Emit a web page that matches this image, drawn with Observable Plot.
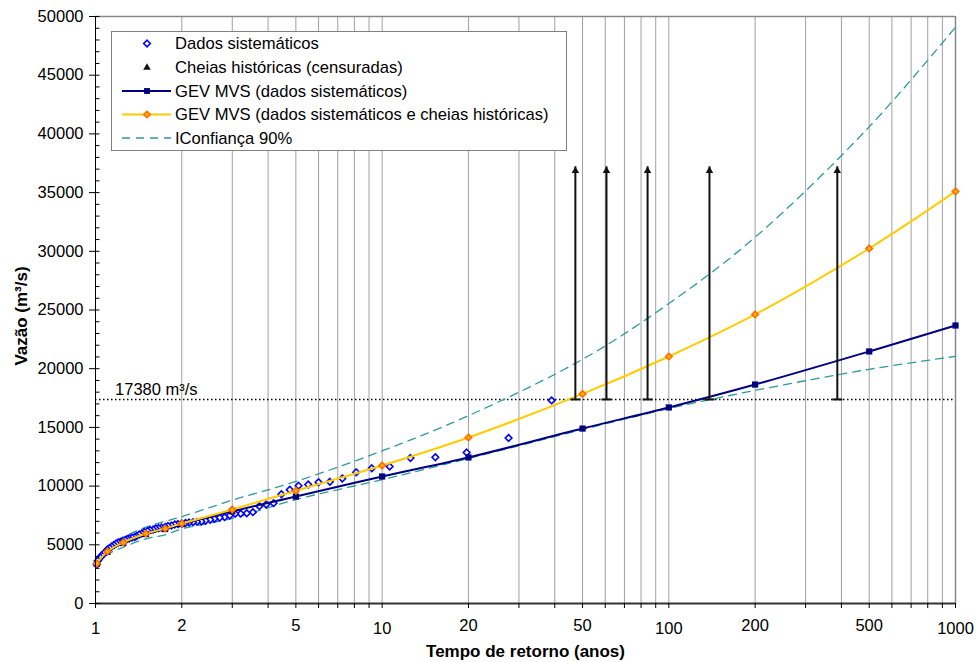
<!DOCTYPE html>
<html>
<head>
<meta charset="utf-8">
<script src="https://cdn.jsdelivr.net/npm/d3@7"></script>
<script src="https://cdn.jsdelivr.net/npm/@observablehq/plot@0.6"></script>
<style>
  body { margin: 0; background: #fff; }
  #chart svg { font-family: "Liberation Sans", Arial, sans-serif; overflow: visible; }
</style>
</head>
<body>
<div id="chart"></div>
<script>
// Systematic annual maxima: plotting-position return period (years) and flow (m³/s)
const sysT = [39.0, 27.6, 19.71, 15.33, 12.55, 10.62, 9.2, 8.12, 7.26, 6.57, 6.0, 5.52, 5.11, 4.76, 4.45,
  4.18, 3.94, 3.73, 3.54, 3.37, 3.21, 3.07, 2.94, 2.82, 2.71, 2.6, 2.51, 2.42, 2.34, 2.26, 2.19, 2.12,
  2.06, 2.0, 1.94, 1.89, 1.84, 1.79, 1.75, 1.7, 1.66, 1.62, 1.59, 1.55, 1.52, 1.48, 1.45, 1.42, 1.39,
  1.37, 1.34, 1.31, 1.29, 1.27, 1.24, 1.22, 1.2, 1.18, 1.16, 1.14, 1.12, 1.1, 1.09, 1.07, 1.05, 1.04,
  1.02, 1.01];
const sysQ = [17300, 14100, 12860, 12460, 12390, 11670, 11520, 11180, 10650, 10370, 10330, 10140, 10030, 9690, 9310,
  8545, 8430, 8290, 7780, 7690, 7650, 7640, 7500, 7355, 7300, 7210, 7130, 7040, 6985, 6955, 6930, 6900,
  6860, 6810, 6770, 6730, 6640, 6600, 6520, 6470, 6430, 6390, 6300, 6260, 6175, 6090, 5960, 5880, 5750,
  5660, 5620, 5540, 5490, 5410, 5320, 5240, 5200, 5110, 4980, 4860, 4730, 4600, 4430, 4260, 4090, 3920,
  3660, 3320];

// Return periods at which the fitted GEV quantiles are evaluated
const fitT = [1.01, 1.1, 1.25, 1.5, 1.75, 2, 3, 5, 10, 20, 50, 100, 200, 500, 1000];
const gevSys = [3380, 4400, 5170, 5920, 6340, 6760, 7850, 9110, 10820, 12440, 14900, 16700, 18650, 21470, 23680];
const gevHist = [3400, 4430, 5200, 5960, 6390, 6810, 8000, 9600, 11750, 14140, 17850, 21040, 24620, 30240, 35100];
const ciUpper = [3700, 4750, 5650, 6500, 7000, 7400, 8800, 10400, 13000, 16000, 20800, 25550, 31200, 40600, 49100];
const ciLower = [3150, 4150, 4800, 5500, 5850, 6350, 7250, 8850, 10550, 12350, 14820, 16600, 18150, 19950, 21050];

// Censored historical floods: known to exceed the threshold
const histT = [47.2, 60.6, 84.3, 138.6, 387];
const threshold = 17380;
const histTop = 37200;

// Axis ticks
const xDecades = [1, 10, 100, 1000];
const xOthers = [2, 5, 20, 50, 200, 500];
const xTicks = [1, 2, 3, 4, 5, 6, 7, 8, 9, 10, 20, 30, 40, 50, 60, 70, 80, 90,
  100, 200, 300, 400, 500, 600, 700, 800, 900, 1000];
const yMajor = [0, 5000, 10000, 15000, 20000, 25000, 30000, 35000, 40000, 45000, 50000];
const yMinor = d3.range(0, 50001, 1000);

const sysData = sysT.map((t, i) => ({t, q: sysQ[i]}));
const fitSys = fitT.map((t, i) => ({t, q: gevSys[i]}));
const fitHist = fitT.map((t, i) => ({t, q: gevHist[i]}));
const upper = fitT.map((t, i) => ({t, q: ciUpper[i]}));
const lower = fitT.map((t, i) => ({t, q: ciLower[i]}));

const teal = "#2f9a9a";
const navy = "#000080";
const gold = "#ffcc00";
const orange = "#ff6a00";
const blue = "#0000ff";
const FS = 16.5;

// custom symbols: square-proportioned diamond, base cap of the censored arrows, inward axis ticks
const diamond = {draw(ctx) { const h = 3.3; ctx.moveTo(0, -h); ctx.lineTo(h, 0); ctx.lineTo(0, h); ctx.lineTo(-h, 0); ctx.closePath(); }};
const capSymbol = {draw(ctx) { ctx.moveTo(-5, 0); ctx.lineTo(5, 0); }};
const inTick = {draw(ctx) { ctx.moveTo(0, 0); ctx.lineTo(4, 0); }};

const chart = Plot.plot({
  width: 976,
  height: 662,
  marginLeft: 95,
  marginRight: 21,
  marginTop: 16,
  marginBottom: 59,
  style: {fontSize: FS + "px", fontFamily: "Liberation Sans, Arial, sans-serif", background: "white"},
  x: {type: "log", domain: [1, 1000]},
  y: {domain: [0, 50000]},
  marks: [
    // vertical grid
    Plot.ruleX(xTicks.filter(d => d > 1 && d < 1000), {stroke: "#a0a0a0", strokeWidth: 1}),
    // plot-area border (top and right)
    Plot.ruleY([50000], {stroke: "#888", strokeWidth: 1.5}),
    Plot.ruleX([1000], {stroke: "#888", strokeWidth: 1.5}),
    // threshold of perception
    Plot.ruleY([threshold], {stroke: "#000", strokeWidth: 1.5, strokeDasharray: "1.5,2.5"}),
    Plot.text([`${threshold} m³/s`], {x: 1.17, y: threshold, textAnchor: "start", lineAnchor: "bottom",
      dy: -4, fontSize: FS, fill: "#000"}),
    // 90% confidence interval
    Plot.line(upper, {x: "t", y: "q", stroke: teal, strokeWidth: 1.3, strokeDasharray: "8,6", curve: "catmull-rom"}),
    Plot.line(lower, {x: "t", y: "q", stroke: teal, strokeWidth: 1.3, strokeDasharray: "8,6", curve: "catmull-rom"}),
    // systematic sample
    Plot.dot(sysData, {x: "t", y: "q", symbol: diamond, stroke: blue, strokeWidth: 1.6, fill: "white"}),
    // GEV fit, systematic data only
    Plot.line(fitSys, {x: "t", y: "q", stroke: navy, strokeWidth: 2, curve: "catmull-rom"}),
    Plot.dot(fitSys, {x: "t", y: "q", symbol: "square", r: 3.5, fill: navy}),
    // GEV fit, systematic data plus historical floods
    Plot.line(fitHist, {x: "t", y: "q", stroke: gold, strokeWidth: 2, curve: "catmull-rom"}),
    Plot.dot(fitHist, {x: "t", y: "q", symbol: diamond, fill: "#ffb000", stroke: orange, strokeWidth: 1.5}),
    // censored historical floods
    Plot.ruleX(histT, {x: d => d, y1: threshold, y2: histTop, stroke: "#111", strokeWidth: 2}),
    Plot.dot(histT, {x: d => d, y: threshold, symbol: capSymbol, fill: "none", stroke: "#111", strokeWidth: 2}),
    Plot.dot(histT, {x: d => d, y: histTop, symbol: "triangle", r: 2.8, dy: 4, fill: "#111", stroke: "none"}),
    // axes
    Plot.ruleY([0], {stroke: "#333", strokeWidth: 2}),
    Plot.ruleX([1], {stroke: "#000", strokeWidth: 1}),
    Plot.dot(yMinor, {x: 1, y: d => d, symbol: inTick, fill: "none", stroke: "#000", strokeWidth: 1}),
    Plot.axisY(yMajor, {tickSize: 6, tickPadding: 6, tickFormat: d => String(d), label: null, fontSize: FS}),
    Plot.axisX(xTicks, {tickSize: 5, tickFormat: () => "", label: null}),
    Plot.text(xDecades, {x: d => d, frameAnchor: "bottom", text: d => String(d), textAnchor: "middle",
      lineAnchor: "middle", dy: 25, fontSize: FS, fill: "#000"}),
    Plot.text(xOthers, {x: d => d, frameAnchor: "bottom", text: d => String(d), textAnchor: "middle",
      lineAnchor: "middle", dy: 22, fontSize: FS, fill: "#000"}),
    Plot.text(["Tempo de retorno (anos)"], {frameAnchor: "bottom", textAnchor: "middle", lineAnchor: "middle",
      dy: 48, fontWeight: "bold", fontSize: 17, fill: "#000"}),
    Plot.text(["Vazão (m³/s)"], {frameAnchor: "left", textAnchor: "middle", lineAnchor: "middle", rotate: -90,
      dx: -74, dy: 6, fontWeight: "bold", fontSize: 17, fill: "#000"})
  ]
});

document.getElementById("chart").appendChild(chart);

// Legend box in the upper-left of the plotting area
const svg = d3.select(chart);
const lg = svg.append("g").attr("font-size", 16.6).attr("text-anchor", "start")
  .attr("font-family", "Liberation Sans, Arial, sans-serif");
lg.append("rect").attr("x", 111.5).attr("y", 31.5).attr("width", 455).attr("height", 119)
  .attr("fill", "white").attr("stroke", "#808080").attr("stroke-width", 1);

const symPath = (type, r) => d3.symbol(type, r * r * Math.PI)();
const diamondPath = () => { const p = d3.path(); diamond.draw(p); return p.toString(); };
const entries = [
  {label: "Dados sistemáticos", y: 43.5, draw: g => {
    g.append("path").attr("d", diamondPath()).attr("transform", "translate(147,0)")
      .attr("fill", "white").attr("stroke", blue).attr("stroke-width", 1.6);
  }},
  {label: "Cheias históricas (censuradas)", y: 67.5, draw: g => {
    g.append("path").attr("d", symPath(d3.symbolTriangle, 2.8)).attr("transform", "translate(147,0)")
      .attr("fill", "#111");
  }},
  {label: "GEV MVS (dados sistemáticos)", y: 91, draw: g => {
    g.append("line").attr("x1", 122).attr("x2", 171).attr("stroke", navy).attr("stroke-width", 2);
    g.append("path").attr("d", symPath(d3.symbolSquare, 3.3)).attr("transform", "translate(147,0)").attr("fill", navy);
  }},
  {label: "GEV MVS (dados sistemáticos e cheias históricas)", y: 114.5, draw: g => {
    g.append("line").attr("x1", 122).attr("x2", 171).attr("stroke", gold).attr("stroke-width", 2);
    g.append("path").attr("d", diamondPath()).attr("transform", "translate(147,0)")
      .attr("fill", "#ffb000").attr("stroke", orange).attr("stroke-width", 1.5);
  }},
  {label: "IConfiança 90%", y: 138, draw: g => {
    g.append("line").attr("x1", 122).attr("x2", 171).attr("stroke", teal).attr("stroke-width", 1.3)
      .attr("stroke-dasharray", "8,6");
  }}
];
for (const e of entries) {
  const row = lg.append("g").attr("transform", `translate(0,${e.y})`);
  e.draw(row);
  row.append("text").attr("x", 175).attr("y", 0).attr("dy", "0.35em").attr("fill", "#000").text(e.label);
}
</script>
</body>
</html>
